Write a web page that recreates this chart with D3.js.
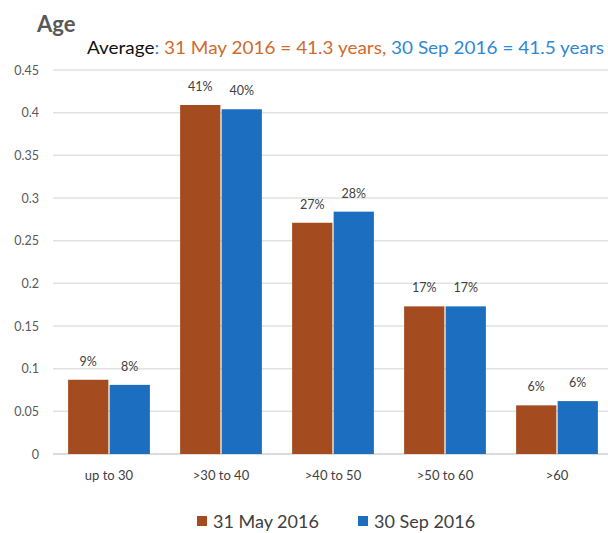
<!DOCTYPE html>
<html><head><meta charset="utf-8">
<script src="https://cdn.jsdelivr.net/npm/d3@7"></script>
<style>body{margin:0;background:#fff}</style>
</head><body>
<svg id="c" width="608" height="533"></svg>
<script>
const categories = ["up to 30", ">30 to 40", ">40 to 50", ">50 to 60", ">60"];
const seriesNames = ["31 May 2016", "30 Sep 2016"];
const may2016 = [0.087, 0.409, 0.271, 0.173, 0.057];
const sep2016 = [0.081, 0.404, 0.284, 0.173, 0.062];
const mayLabels = ["9%", "41%", "27%", "17%", "6%"];
const sepLabels = ["8%", "40%", "28%", "17%", "6%"];
const yTicks = [0, 0.05, 0.1, 0.15, 0.2, 0.25, 0.3, 0.35, 0.4, 0.45];
const colors = ["#A44C1F", "#1C6EC0"];
const textColors = ["#D06A2E", "#2F88D4"];
const font = "Lato, 'Open Sans', sans-serif";

const svg = d3.select("#c");
const x = d3.scaleBand().domain(categories).range([53, 613]).paddingInner(0.27).paddingOuter(0.135);
const xs = d3.scaleBand().domain(seriesNames).range([0, x.bandwidth()]).paddingInner(0.03);
const y = d3.scaleLinear().domain([0, 0.45]).range([454, 70]);

// gridlines
svg.append("g").selectAll("line").data(yTicks).join("line")
  .attr("x1", 53).attr("x2", 608)
  .attr("y1", d => y(d)).attr("y2", d => y(d))
  .attr("stroke", d => d === 0 ? "#d0d0d0" : "#e2e2e2").attr("stroke-width", 1.5);

// y axis labels
const yAxis = d3.axisLeft(y).tickValues(yTicks).tickSize(0).tickPadding(0).tickFormat(d => d === 0 ? "0" : String(+d.toFixed(2)));
const ya = svg.append("g").attr("transform", "translate(39,0)").call(yAxis);
ya.select(".domain").remove();
ya.selectAll("text").attr("font-family", font).attr("font-size", 12.5).attr("fill", "#595959");

// x axis labels
const xAxis = d3.axisBottom(x).tickSize(0).tickPadding(0);
const xa = svg.append("g").attr("transform", "translate(0,471)").call(xAxis);
xa.select(".domain").remove();
xa.selectAll("text").attr("font-family", font).attr("font-size", 13).attr("fill", "#404040");

const series = [may2016, sep2016];
const labels = [mayLabels, sepLabels];
series.forEach((vals, si) => {
  const g = svg.append("g");
  g.selectAll("rect").data(vals).join("rect")
    .attr("x", (d, i) => x(categories[i]) + xs(seriesNames[si]))
    .attr("width", xs.bandwidth())
    .attr("y", d => y(d))
    .attr("height", d => y(0) - y(d))
    .attr("fill", colors[si]);
  g.selectAll("text").data(vals).join("text")
    .attr("x", (d, i) => x(categories[i]) + xs(seriesNames[si]) + xs.bandwidth() / 2)
    .attr("y", d => y(d) - 14)
    .attr("text-anchor", "middle")
    .attr("font-family", font).attr("font-size", 12.5).attr("fill", "#404040")
    .text((d, i) => labels[si][i]);
});

// title
svg.append("text").attr("x", 37).attr("y", 32).attr("font-family", font)
  .attr("font-size", 22).attr("font-weight", "bold").attr("fill", "#595959").text("Age");

const sub = svg.append("text").attr("x", 87).attr("y", 54).attr("font-family", font)
  .attr("font-size", 17).attr("textLength", 517).attr("lengthAdjust", "spacingAndGlyphs");
sub.append("tspan").attr("fill", "#111").text("Average");
sub.append("tspan").attr("fill", textColors[1]).text(":  ");
sub.append("tspan").attr("fill", textColors[0]).text("31 May 2016 = 41.3 years, ");
sub.append("tspan").attr("fill", textColors[1]).text("30 Sep 2016 = 41.5 years");

// legend
const legX = [197, 358];
seriesNames.forEach((n, i) => {
  svg.append("rect").attr("x", legX[i]).attr("y", 516).attr("width", 10).attr("height", 10).attr("fill", colors[i]);
  svg.append("text").attr("x", legX[i] + 16).attr("y", 528).attr("font-family", font)
    .attr("font-size", 18).attr("fill", "#404040").text(n);
});
</script>
</body></html>
